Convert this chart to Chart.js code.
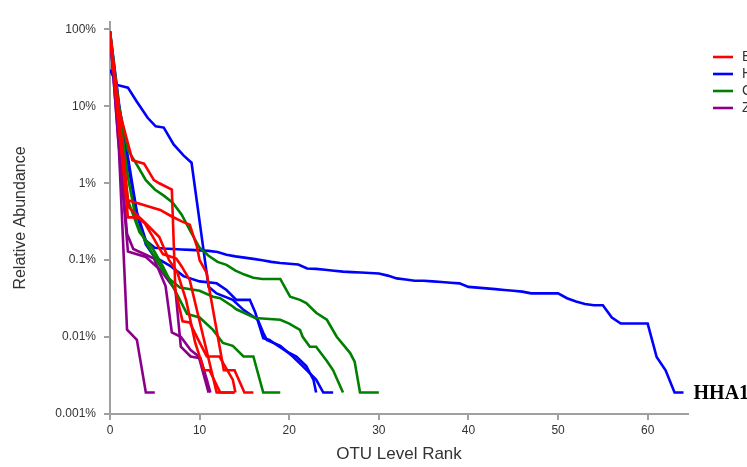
<!DOCTYPE html>
<html><head><meta charset="utf-8">
<script src="https://cdn.jsdelivr.net/npm/chart.js@4"></script>
<style>html,body{margin:0;padding:0;background:#fff}canvas{display:block}</style>
</head><body>
<canvas id="c" width="747" height="467"></canvas>
<script>
// Rank-abundance curves. Each sample: list of [OTU rank, relative abundance in %]
const groupNames = ['B', 'H', 'G', 'Z'];
const groupColors = ['#ff0000', '#0000ff', '#008000', '#8b008b'];
const xTicks = [0, 10, 20, 30, 40, 50, 60];
const yTicks = [0.001, 0.01, 0.1, 1, 10, 100];
const yTickLabels = ['0.001%', '0.01%', '0.1%', '1%', '10%', '100%'];

// group B (red)
const B1 = [[0,90],[1,9],[2.5,2.0],[3.8,1.8],[4.9,1.1],[5.5,1.0],[6.9,0.83],[7.3,0.04],[8.1,0.016],[8.9,0.0155],[9.7,0.01],[10.8,0.0056],[12.2,0.0056],[13.7,0.0028],[14,0.0019]];
const B2 = [[0,85],[1,8],[2,0.6],[5.6,0.45],[6.9,0.37],[8,0.32],[8.9,0.29],[9.7,0.15],[10,0.1],[10.8,0.068],[11.1,0.041],[12.7,0.0037],[13.9,0.0037],[15,0.0019],[16,0.0019]];
const B3 = [[0,92],[1,6],[2,0.36],[3.1,0.36],[3.9,0.3],[4.8,0.2],[5.4,0.15],[5.9,0.12],[7.4,0.105],[8,0.083],[8.9,0.055],[11.9,0.0019],[13.9,0.0019]];
const B4 = [[0,88],[1,5],[2,0.5],[4,0.3],[5.5,0.2],[6.6,0.1],[7.5,0.07],[8.5,0.03],[9.5,0.0085],[10.5,0.0037],[11.1,0.0037],[12.3,0.0019],[13.9,0.0019]];

// group H (blue)
const HHA1 = [[0,85],[1,9.5],[2,2.2],[3,0.42],[4,0.18],[5,0.145],[6,0.142],[7,0.14],[8,0.138],[9,0.136],[10,0.134],[11,0.132],[12,0.128],[13,0.118],[14,0.112],[15,0.108],[16,0.104],[17,0.1],[18,0.095],[19,0.092],[20,0.09],[21,0.088],[22,0.078],[23,0.077],[24,0.075],[25,0.073],[26,0.071],[27,0.07],[28,0.069],[29,0.068],[30,0.067],[31,0.063],[32,0.058],[33,0.056],[34,0.054],[35,0.054],[36,0.053],[37,0.052],[38,0.051],[39,0.05],[40,0.045],[41,0.044],[42,0.043],[43,0.042],[44,0.041],[45,0.04],[46,0.039],[47,0.037],[48,0.037],[49,0.037],[50,0.037],[51,0.032],[52,0.029],[53,0.027],[54,0.026],[55,0.026],[56,0.018],[57,0.015],[58,0.015],[59,0.015],[60,0.015],[61,0.0055],[62,0.0037],[63,0.0019],[64,0.0019]];
const H2 = [[0,30],[0.8,19],[2,17.5],[3,11.5],[4.2,7.1],[5.1,5.5],[6,5.3],[7.1,3.2],[8.2,2.3],[9.1,1.85],[11,0.045],[11.9,0.037],[13.7,0.0305],[14.9,0.0226],[16.5,0.0168],[17.1,0.0114],[17.5,0.0092],[19,0.0077],[20.4,0.0056],[21.5,0.0042],[23,0.0028],[23.8,0.0019],[24.9,0.0019]];
const H3 = [[0,95],[1,11],[2,1.8],[3,0.4],[4,0.16],[4.9,0.112],[6.8,0.083],[8.2,0.062],[10,0.053],[11.9,0.05],[13,0.041],[14.1,0.0305],[15.6,0.0305],[16.2,0.021],[16.7,0.0137],[17.1,0.0097],[17.8,0.0092],[18.6,0.0079],[19.9,0.0063],[20.8,0.0056],[21.9,0.0042],[22.7,0.0028],[23,0.0019]];

// group G (green)
const G1 = [[0,90],[1,10],[2,2.7],[3,1.74],[4,1.1],[5,0.83],[6,0.69],[7,0.56],[8,0.39],[9,0.235],[10,0.145],[11,0.114],[12,0.095],[13,0.087],[14,0.073],[15,0.065],[16,0.059],[17,0.057],[19,0.057],[20.1,0.0335],[21.2,0.0305],[21.9,0.0277],[23,0.0207],[24.2,0.0168],[25.3,0.0101],[26.8,0.0062],[27.3,0.0048],[27.9,0.0019],[30,0.0019]];
const G2 = [[0,95],[1,9],[2,1.2],[3,0.3],[4,0.17],[5,0.11],[6,0.07],[6.7,0.056],[7.8,0.044],[10,0.04],[11.5,0.0335],[12.3,0.032],[13.7,0.025],[14.1,0.023],[16.2,0.0177],[19,0.0168],[20,0.015],[21.2,0.0124],[21.5,0.0101],[22.3,0.0075],[23,0.0075],[24.2,0.0049],[24.9,0.0037],[26,0.0019]];
const G3 = [[0,88],[1,7],[2,0.6],[3.3,0.23],[4.8,0.14],[5.9,0.083],[7,0.046],[8.6,0.02],[10,0.018],[11.5,0.0124],[12.6,0.0084],[13.7,0.0077],[14.9,0.0056],[16,0.0056],[17.1,0.0019],[19,0.0019]];

// group Z (purple)
const Z1 = [[0,95],[1,2.7],[1.9,0.0125],[3,0.0092],[4,0.0019],[5,0.0019]];
const Z2 = [[0,80],[1,4],[1.9,0.22],[2.6,0.14],[4.9,0.105],[6.2,0.046],[6.9,0.0115],[7.9,0.0101],[9,0.0068],[9.9,0.0056],[11,0.0019]];
const Z3 = [[0,92],[1,3],[2,0.13],[4,0.11],[5.6,0.075],[7.3,0.041],[7.9,0.0075],[9,0.0056],[10.1,0.0053],[10.8,0.0028],[11.2,0.0019]];

const samples = [
  ['B1', 0, B1], ['B2', 0, B2], ['B3', 0, B3], ['B4', 0, B4],
  ['G1', 2, G1], ['G2', 2, G2], ['G3', 2, G3],
  ['H2', 1, H2], ['H3', 1, H3], ['HHA1', 1, HHA1],
  ['Z1', 3, Z1], ['Z2', 3, Z2], ['Z3', 3, Z3]
];

const datasets = samples.map(([name, g, pts]) => ({
  label: name,
  data: pts.map(([x, y]) => ({ x, y })),
  borderColor: groupColors[g],
  borderWidth: 2.6,
  pointRadius: 0,
  tension: 0,
  fill: false
}));

const axisGrey = '#a0a0a0';
const textGrey = '#333333';

// group legend in the right margin
const groupLegend = {
  id: 'groupLegend',
  afterDraw(chart) {
    const ctx = chart.ctx;
    const x0 = chart.chartArea.right + 25;
    ctx.save();
    ctx.font = '14px "Liberation Sans", Arial, sans-serif';
    ctx.textBaseline = 'middle';
    groupNames.forEach((n, i) => {
      const y = 57 + i * 17;
      ctx.strokeStyle = groupColors[i];
      ctx.lineWidth = 2.6;
      ctx.beginPath();
      ctx.moveTo(x0, y);
      ctx.lineTo(x0 + 20, y);
      ctx.stroke();
      ctx.fillStyle = textGrey;
      ctx.fillText(n, x0 + 29, y);
    });
    ctx.restore();
  }
};

// sample name at the end of its curve
const endLabel = {
  id: 'endLabel',
  afterDatasetsDraw(chart) {
    const i = chart.data.datasets.findIndex(d => d.label === 'HHA1');
    const d = chart.data.datasets[i].data;
    const last = d[d.length - 1];
    const px = chart.scales.x.getPixelForValue(last.x);
    const py = chart.scales.y.getPixelForValue(last.y);
    const ctx = chart.ctx;
    ctx.save();
    ctx.font = 'bold 20px "Liberation Serif", "Times New Roman", serif';
    ctx.fillStyle = '#000';
    ctx.textBaseline = 'middle';
    ctx.fillText('HHA1', px + 10, py + 1);
    ctx.restore();
  }
};

new Chart(document.getElementById('c'), {
  type: 'line',
  data: { datasets },
  options: {
    responsive: false,
    animation: false,
    layout: { padding: { top: 22, right: 59, left: 0, bottom: 0 } },
    plugins: { legend: { display: false }, tooltip: { enabled: false } },
    scales: {
      x: {
        type: 'linear',
        min: 0,
        max: 64.5,
        afterBuildTicks: s => { s.ticks = xTicks.map(v => ({ value: v })); },
        afterFit: s => { s.height = 53; },
        ticks: {
          color: textGrey,
          font: { size: 12, family: '"Liberation Sans", Arial, sans-serif' },
          padding: 3,
          maxRotation: 0,
          callback: v => String(v)
        },
        grid: { drawOnChartArea: false, drawTicks: true, tickLength: 6, color: axisGrey, lineWidth: 2 },
        border: { color: axisGrey, width: 2 },
        title: {
          display: true,
          text: 'OTU Level Rank',
          color: textGrey,
          font: { size: 17, family: '"Liberation Sans", Arial, sans-serif' },
          padding: { top: 0, bottom: 2 }
        }
      },
      y: {
        type: 'logarithmic',
        min: 0.001,
        max: 125,
        afterBuildTicks: s => { s.ticks = yTicks.map(v => ({ value: v })); },
        afterFit: s => { s.width = 110; },
        ticks: {
          color: textGrey,
          font: { size: 12, family: '"Liberation Sans", Arial, sans-serif' },
          padding: 8,
          callback: v => yTickLabels[yTicks.findIndex(t => Math.abs(t - v) / t < 1e-6)]
        },
        grid: { drawOnChartArea: false, drawTicks: true, tickLength: 6, color: axisGrey, lineWidth: 2 },
        border: { color: axisGrey, width: 2 },
        title: {
          display: true,
          text: 'Relative Abundance',
          color: textGrey,
          font: { size: 16, family: '"Liberation Sans", Arial, sans-serif' },
          padding: { top: 11, bottom: 0 }
        }
      }
    }
  },
  plugins: [groupLegend, endLabel]
});
</script>
</body></html>
